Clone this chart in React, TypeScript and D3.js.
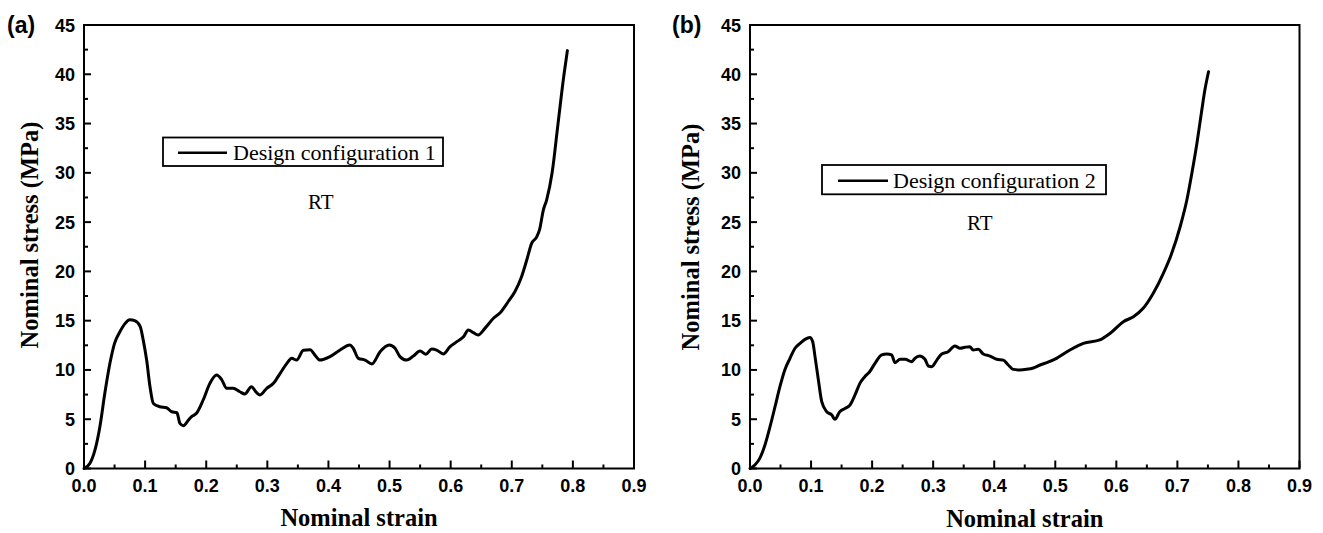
import React from "react";
import * as d3 from "d3";

const strainA = [0, 0.0098, 0.018, 0.026, 0.034, 0.0425, 0.05, 0.059, 0.067, 0.075, 0.083, 0.092, 0.097, 0.1025, 0.108, 0.1135, 0.124, 0.135, 0.1435, 0.152, 0.157, 0.1625, 0.171, 0.176, 0.184, 0.195, 0.206, 0.217, 0.225, 0.2335, 0.244, 0.255, 0.263, 0.274, 0.2825, 0.288, 0.299, 0.31, 0.321, 0.332, 0.34, 0.348, 0.359, 0.37, 0.378, 0.386, 0.4025, 0.419, 0.435, 0.4405, 0.449, 0.46, 0.471, 0.4845, 0.4995, 0.509, 0.517, 0.528, 0.539, 0.55, 0.5595, 0.569, 0.577, 0.588, 0.599, 0.61, 0.621, 0.629, 0.637, 0.645, 0.656, 0.67, 0.681, 0.694, 0.705, 0.716, 0.7245, 0.7325, 0.741, 0.746, 0.7515, 0.757, 0.766, 0.7757, 0.7855, 0.791];
const stressA = [0, 0.53, 1.88, 4.24, 7.6, 10.7, 12.7, 13.9, 14.7, 15.1, 15.0, 14.4, 13.0, 11.0, 8.3, 6.6, 6.27, 6.17, 5.76, 5.66, 4.58, 4.35, 4.92, 5.26, 5.6, 6.95, 8.64, 9.49, 9.05, 8.14, 8.14, 7.79, 7.56, 8.3, 7.69, 7.46, 8.14, 8.64, 9.66, 10.67, 11.18, 11.0, 12.0, 12.05, 11.5, 11.0, 11.35, 12.02, 12.53, 12.2, 11.18, 11.0, 10.6, 11.85, 12.53, 12.2, 11.35, 11.0, 11.41, 11.92, 11.58, 12.12, 12.02, 11.62, 12.36, 12.87, 13.37, 14.05, 13.78, 13.55, 14.22, 15.24, 15.81, 16.92, 17.94, 19.46, 21.15, 22.85, 23.52, 24.37, 26.2, 27.24, 30, 35, 40, 42.4];

const strainB = [0, 0.008, 0.016, 0.0245, 0.0328, 0.041, 0.049, 0.057, 0.0655, 0.0737, 0.082, 0.09, 0.098, 0.1027, 0.1065, 0.112, 0.1175, 0.1257, 0.134, 0.139, 0.147, 0.1555, 0.1637, 0.172, 0.18, 0.188, 0.196, 0.2047, 0.2157, 0.224, 0.232, 0.2375, 0.2457, 0.254, 0.265, 0.27, 0.278, 0.2866, 0.292, 0.2977, 0.306, 0.314, 0.3245, 0.3355, 0.344, 0.352, 0.36, 0.3655, 0.374, 0.382, 0.393, 0.404, 0.415, 0.423, 0.431, 0.442, 0.453, 0.464, 0.475, 0.486, 0.502, 0.524, 0.546, 0.573, 0.59, 0.6115, 0.628, 0.644, 0.6605, 0.677, 0.6907, 0.7045, 0.7155, 0.7237, 0.732, 0.74, 0.745, 0.751];
const stressB = [0, 0.36, 1.03, 2.38, 4.24, 6.27, 8.3, 10.0, 11.18, 12.2, 12.7, 13.1, 13.3, 12.87, 11.35, 8.98, 6.78, 5.76, 5.43, 4.99, 5.76, 6.1, 6.44, 7.46, 8.64, 9.31, 9.82, 10.67, 11.52, 11.62, 11.52, 10.74, 11.08, 11.08, 10.84, 11.18, 11.41, 11.08, 10.4, 10.33, 11.0, 11.62, 11.85, 12.43, 12.2, 12.3, 12.36, 12.02, 12.1, 11.62, 11.41, 11.08, 11.0, 10.5, 10.06, 10.0, 10.06, 10.2, 10.5, 10.74, 11.18, 12.02, 12.7, 13.04, 13.72, 14.9, 15.4, 16.25, 17.78, 19.8, 21.83, 24.53, 27.24, 29.95, 33.0, 36.37, 38.4, 40.26];

const xTicks = [0, 0.1, 0.2, 0.3, 0.4, 0.5, 0.6, 0.7, 0.8, 0.9];
const xMinorTicks = [0.05, 0.15, 0.25, 0.35, 0.45, 0.55, 0.65, 0.75, 0.85];
const yTicks = [0, 5, 10, 15, 20, 25, 30, 35, 40, 45];
const yMinorTicks = [2.5, 7.5, 12.5, 17.5, 22.5, 27.5, 32.5, 37.5, 42.5];

const panelLabels = ["(a)", "(b)"];
const legendLabels = ["Design configuration 1", "Design configuration 2"];
const conditionLabel = "RT";
const xTitle = "Nominal strain";
const yTitle = "Nominal stress (MPa)";

const SANS = "'Liberation Sans', Arial, sans-serif";
const SERIF = "'Liberation Serif', 'Times New Roman', serif";

type PanelProps = {
  left: number;
  right: number;
  strain: number[];
  stress: number[];
  label: string;
  legend: string;
  labelX: number;
  yTitleX: number;
  yTitleY: number;
  xTitleY: number;
  legBox: { x: number; y: number; w: number; h: number };
  lineX1: number;
  lineX2: number;
  textX: number;
  rtX: number;
  rtY: number;
};

function Panel(p: PanelProps) {
  const top = 25;
  const bottom = 468.5;
  const x = d3.scaleLinear().domain([0, 0.9]).range([p.left, p.right]);
  const y = d3.scaleLinear().domain([0, 45]).range([bottom, top]);
  const pts = p.strain.map((s, i) => [s, p.stress[i]] as [number, number]);
  const line = d3
    .line<[number, number]>()
    .x((d) => x(d[0]))
    .y((d) => y(d[1]))
    .curve(d3.curveMonotoneX);
  const cx = (p.left + p.right) / 2;
  return (
    <g>
      <text x={p.labelX} y={33} fontFamily={SANS} fontWeight="bold" fontSize={23}>
        {p.label}
      </text>
      <rect x={p.left} y={top} width={p.right - p.left} height={bottom - top} fill="none" stroke="#000" strokeWidth={2} />
      {xTicks.map((t) => (
        <g key={"xt" + t}>
          <line x1={x(t)} x2={x(t)} y1={bottom} y2={bottom - 8} stroke="#000" strokeWidth={2} />
          <text x={x(t)} y={492} textAnchor="middle" fontFamily={SANS} fontWeight="bold" fontSize={18}>
            {t.toFixed(1)}
          </text>
        </g>
      ))}
      {xMinorTicks.map((t) => (
        <line key={"xm" + t} x1={x(t)} x2={x(t)} y1={bottom} y2={bottom - 4} stroke="#000" strokeWidth={2} />
      ))}
      {yTicks.map((t) => (
        <g key={"yt" + t}>
          <line x1={p.left} x2={p.left + 7} y1={y(t)} y2={y(t)} stroke="#000" strokeWidth={2} />
          <text x={p.left - 9} y={y(t) + 6.5} textAnchor="end" fontFamily={SANS} fontWeight="bold" fontSize={18}>
            {t}
          </text>
        </g>
      ))}
      {yMinorTicks.map((t) => (
        <line key={"ym" + t} x1={p.left} x2={p.left + 4} y1={y(t)} y2={y(t)} stroke="#000" strokeWidth={2} />
      ))}
      <path d={line(pts) || ""} fill="none" stroke="#000" strokeWidth={3} strokeLinejoin="round" strokeLinecap="round" />
      <rect x={p.legBox.x} y={p.legBox.y} width={p.legBox.w} height={p.legBox.h} fill="#fff" stroke="#000" strokeWidth={1.8} />
      <line x1={p.lineX1} x2={p.lineX2} y1={p.legBox.y + p.legBox.h / 2 + 1} y2={p.legBox.y + p.legBox.h / 2 + 1} stroke="#000" strokeWidth={2.5} />
      <text x={p.textX} y={p.legBox.y + p.legBox.h / 2 + 8} fontFamily={SERIF} fontSize={22}>
        {p.legend}
      </text>
      <text x={p.rtX} y={p.rtY} fontFamily={SERIF} fontSize={21}>
        {conditionLabel}
      </text>
      <text x={cx} y={p.xTitleY} textAnchor="middle" fontFamily={SERIF} fontWeight="bold" fontSize={24.5}>
        {xTitle}
      </text>
      <text
        transform={`translate(${p.yTitleX},${p.yTitleY}) rotate(-90)`}
        textAnchor="middle"
        fontFamily={SERIF}
        fontWeight="bold"
        fontSize={24.5}
      >
        {yTitle}
      </text>
    </g>
  );
}

export default function App() {
  return (
    <svg width={1323} height={533} style={{ position: "absolute", left: 0, top: 0, background: "#fff" }}>
      <rect x={0} y={0} width={1323} height={533} fill="#fff" />
      <Panel
        left={84}
        right={634}
        strain={strainA}
        stress={stressA}
        label={panelLabels[0]}
        legend={legendLabels[0]}
        labelX={7}
        yTitleX={38}
        yTitleY={235}
        xTitleY={526}
        legBox={{ x: 163, y: 137.5, w: 280, h: 28.5 }}
        lineX1={178}
        lineX2={227}
        textX={233}
        rtX={308}
        rtY={209}
      />
      <Panel
        left={750}
        right={1299.5}
        strain={strainB}
        stress={stressB}
        label={panelLabels[1]}
        legend={legendLabels[1]}
        labelX={672}
        yTitleX={699}
        yTitleY={237}
        xTitleY={527}
        legBox={{ x: 822, y: 165, w: 284, h: 29.3 }}
        lineX1={838}
        lineX2={888}
        textX={893}
        rtX={967}
        rtY={230}
      />
    </svg>
  );
}
